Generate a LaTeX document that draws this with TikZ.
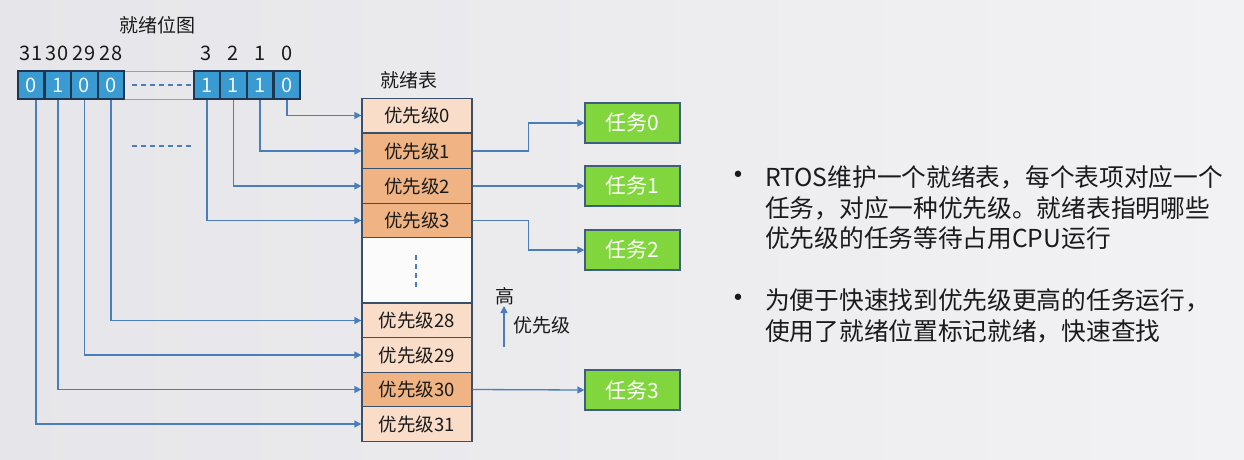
\documentclass[tikz,border=0pt]{standalone}
\usepackage{fontspec}
\setmainfont{Noto Sans CJK SC}
\newfontfamily\dejavu{DejaVu Sans}
\usetikzlibrary{arrows.meta}
\definecolor{bgl}{HTML}{E6E6EA}
\definecolor{bgr}{HTML}{F2F2F4}
\definecolor{lineblue}{HTML}{4A7EBB}
\definecolor{cellblue}{HTML}{3A9AD2}
\definecolor{navy}{HTML}{1F3550}
\definecolor{peach}{HTML}{F9DDC9}
\definecolor{prioorange}{HTML}{F0B383}
\definecolor{tabborder}{HTML}{3A4F6A}
\definecolor{tgreen}{HTML}{80D63C}
\definecolor{tborder}{HTML}{3F5E7E}
\definecolor{txt}{HTML}{1A1A1A}
\tikzset{
  bitcell/.style={draw=navy, line width=1.3pt, fill=cellblue, text=white!92!cellblue, minimum width=26pt, minimum height=28pt, inner sep=0pt, font=\fontsize{20}{20}\selectfont},
  bitlabel/.style={text=txt, inner sep=0pt, font=\fontsize{20}{20}\selectfont},
  prio/.style={draw=tabborder, line width=1.2pt, minimum width=110pt, minimum height=34.5pt, inner sep=0pt, text=txt, font=\fontsize{18.5}{18.5}\selectfont},
  lo/.style={prio, fill=peach},
  hi/.style={prio, fill=prioorange},
  task/.style={draw=tborder, line width=1.2pt, fill=tgreen, text=white, minimum width=95pt, minimum height=40pt, inner sep=0pt, font=\fontsize{21}{21}\selectfont},
  arr/.style={draw=lineblue, line width=1.3pt, -{Triangle[width=7pt,length=7pt]}},
  title/.style={text=txt, inner sep=0pt, font=\fontsize{19}{19}\selectfont},
  bullettext/.style={text=txt, inner sep=0pt, anchor=base west, font=\fontsize{24.7}{24.7}\selectfont},
  bulletdot/.style={text=txt, inner sep=0pt, font=\dejavu\fontsize{22}{22}\selectfont},
  gapdash/.style={draw=lineblue, line width=1.2pt, dash pattern=on 5pt off 4pt}
}
\begin{document}
\begin{tikzpicture}[x=1pt,y=-1pt]
\useasboundingbox (0,0) rectangle (1244,459);
\fill[left color=bgl, right color=bgr] (0,0) rectangle (1244,459);

% bitmap
\node[title] (bmtitle) at (157,25) {就绪位图};
\draw[lineblue!70, line width=0.8pt] (124,71) rectangle (194,99);
\node[bitcell] (b31) at (31,85) {0};
\node[bitcell] (b30) at (58,85) {1};
\node[bitcell] (b29) at (84.5,85) {0};
\node[bitcell] (b28) at (111,85) {0};
\node[bitcell] (b3) at (207,85) {1};
\node[bitcell] (b2) at (233.5,85) {1};
\node[bitcell] (b1) at (260,85) {1};
\node[bitcell] (b0) at (287,85) {0};
\draw[gapdash] (132,85) -- (192,85);
\draw[gapdash] (132,146) -- (192,146);

\node[bitlabel] (l31) at (31,53) {31};
\node[bitlabel] (l30) at (57,53) {30};
\node[bitlabel] (l29) at (84,53) {29};
\node[bitlabel] (l28) at (111,53) {28};
\node[bitlabel] (l3) at (206,53) {3};
\node[bitlabel] (l2) at (233,53) {2};
\node[bitlabel] (l1) at (260,53) {1};
\node[bitlabel] (l0) at (287,53) {0};

% ready table
\node[title] (tbtitle) at (409,80) {就绪表};
\draw[tabborder, line width=1.2pt, fill=white!70!bgr] (362,237) rectangle (472,303);
\draw[gapdash] (416,255) -- (416,287);
\node[lo] (p0) at (417,115.5) {优先级0};
\node[hi] (p1) at (417,151) {优先级1};
\node[hi] (p2) at (417,186) {优先级2};
\node[hi] (p3) at (417,220.5) {优先级3};
\node[lo] (p28) at (417,320.5) {优先级28};
\node[lo] (p29) at (417,355) {优先级29};
\node[hi] (p30) at (417,389.5) {优先级30};
\node[lo] (p31) at (417,424) {优先级31};

% bit -> priority connectors
\draw[arr] ([xshift=5pt]b31.south) |- (p31.west);
\draw[arr] (b30.south) |- (p30.west);
\draw[arr] (b29.south) |- (p29.west);
\draw[arr] (b28.south) |- (p28.west);
\draw[arr] (b3.south) |- (p3.west);
\draw[arr] (b2.south) |- (p2.west);
\draw[arr] (b1.south) |- (p1.west);
\draw[arr] (b0.south) |- (p0.west);

% tasks
\node[task] (t0) at (632.5,123) {任务0};
\node[task] (t1) at (632.5,186) {任务1};
\node[task] (t2) at (632.5,250) {任务2};
\node[task] (t3) at (632.5,390) {任务3};
\draw[arr] (p1.east) -- ++(56,0) |- (t0.west);
\draw[arr] (p2.east) -- (t1.west);
\draw[arr] (p3.east) -- ++(56,0) |- (t2.west);
\draw[arr] (p30.east) -- (t3.west);

% priority direction
\node[title] (high) at (505,296) {高};
\coordinate (pbase) at (504,347);
\draw[arr] (pbase) -- (504,306);
\node[title, anchor=west] (plabel) at (513,325) {优先级};

% bullet text
\node[bulletdot] (d1) at (738,177) {•};
\node[bullettext] (s1) at (765,186) {RTOS维护一个就绪表，每个表项对应一个};
\node[bullettext] (s2) at (765,217) {任务，对应一种优先级。就绪表指明哪些};
\node[bullettext] (s3) at (765,247) {优先级的任务等待占用CPU运行};
\node[bulletdot] (d2) at (738,300) {•};
\node[bullettext] (s4) at (765,309) {为便于快速找到优先级更高的任务运行，};
\node[bullettext] (s5) at (765,340) {使用了就绪位置标记就绪，快速查找};
\end{tikzpicture}
\end{document}
